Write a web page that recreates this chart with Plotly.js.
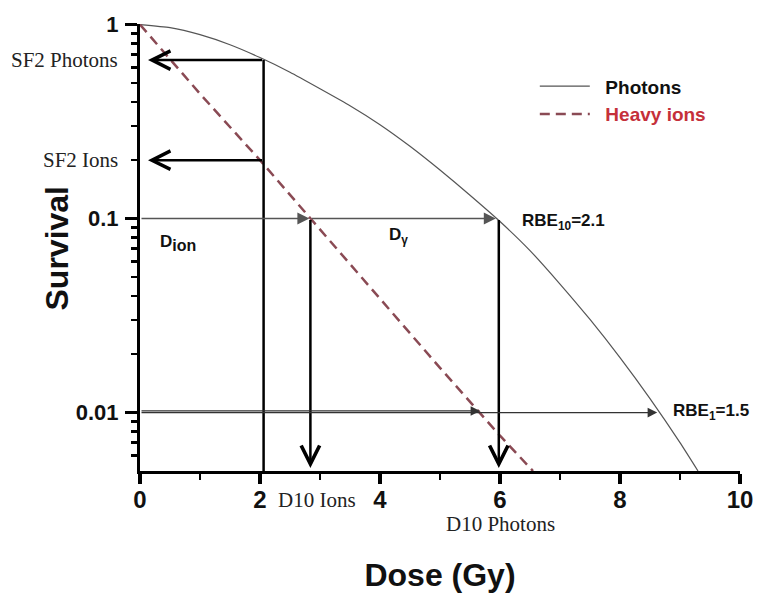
<!DOCTYPE html>
<html><head><meta charset="utf-8">
<script src="https://cdn.plot.ly/plotly-3.0.1.min.js"></script>
<style>html,body{margin:0;padding:0;background:#fff;} #chart{width:766px;height:593px;}</style>
</head><body><div id="chart"></div>
<script>
// ---- data ----
const photonDose     = [0, 0.5, 1, 1.5, 2, 2.5, 3, 3.5, 4, 4.5, 5, 5.5, 6, 6.5, 7, 7.5, 8, 8.5, 9, 9.3];
const photonSurvival = [1, 0.964, 0.887, 0.787, 0.676, 0.568, 0.467, 0.382, 0.305, 0.236, 0.178, 0.132, 0.0966, 0.0684, 0.046, 0.0302, 0.0192, 0.0118, 0.007, 0.005];
const ionDose        = [0, 1, 2, 3, 4, 5, 6, 6.55];
const ionSurvival    = [1, 0.44, 0.2, 0.088, 0.039, 0.017, 0.0076, 0.005];

const xTickVals   = [0, 2, 4, 6, 8, 10];
const xMinorTicks = [1, 3, 5, 7, 9];
const yTickVals   = [0.01, 0.1, 1];
const yTickText   = ['0.01', '0.1', '1'];
const yMinorTicks = [0.006, 0.007, 0.008, 0.009, 0.02, 0.03, 0.04, 0.05, 0.06, 0.07, 0.08, 0.09,
                     0.2, 0.3, 0.4, 0.5, 0.6, 0.7, 0.8, 0.9];

const sf2Dose = 2.06, sf2Photons = 0.656, sf2Ions = 0.2;
const d10Ions = 2.84, d10Photons = 5.98;
const d1Ions = 5.67, d1Photons = 8.62;
const level10 = 0.1, level1 = 0.01;
const yMin = 0.005;

// ---- styling ----
const SANS = 'Liberation Sans, Arial, sans-serif';
const SERIF = 'Liberation Serif, Times New Roman, serif';
const L = Math.log10;
const NB = '\u00a0';

function arrow(xTip, yTip, xTail, yTail, o) {
  return Object.assign({
    x: xTip, y: L(yTip), ax: xTail, ay: L(yTail), xref: 'x', yref: 'y', axref: 'x', ayref: 'y',
    text: '', showarrow: true, arrowcolor: '#000'
  }, o);
}
const thick = {arrowhead: 5, arrowwidth: 2.5, arrowsize: 1.45};
const thin  = {arrowhead: 2, arrowwidth: 1.2, arrowsize: 1.6, arrowcolor: '#333'};

function label(text, x, y, o) {
  return Object.assign({text: text, x: x, y: y, showarrow: false, yanchor: 'middle',
    font: {family: SANS, size: 17, weight: 'bold', color: '#111'}}, o);
}

const annotations = [
  // thick arrows
  arrow(0, sf2Photons, sf2Dose, sf2Photons, Object.assign({standoff: 8}, thick)),
  arrow(0, sf2Ions, sf2Dose, sf2Ions, Object.assign({standoff: 8}, thick)),
  arrow(d10Ions, yMin, d10Ions, level10, Object.assign({standoff: 3}, thick)),
  arrow(d10Photons, yMin, d10Photons, level10, Object.assign({standoff: 3}, thick)),
  // thin arrows
  arrow(d10Ions, level10, 0, level10, Object.assign({standoff: 1}, thin, {arrowwidth: 1.5, arrowcolor: '#555'})),
  arrow(d10Photons, level10, d10Ions, level10, Object.assign({standoff: 3}, thin, {arrowwidth: 1.5, arrowcolor: '#555'})),
  arrow(d1Photons, level1, 0, level1, Object.assign({standoff: 0}, thin)),
  arrow(d1Ions, level1 * 1.02, 0, level1 * 1.02, Object.assign({standoff: 0}, thin)),
  // text labels
  label('SF2 Photons', -0.033, L(sf2Photons), {xref: 'paper', yref: 'y', xanchor: 'right',
        font: {family: SERIF, size: 21, color: '#222'}}),
  label('SF2 Ions', -0.033, L(sf2Ions), {xref: 'paper', yref: 'y', xanchor: 'right',
        font: {family: SERIF, size: 21, color: '#222'}}),
  label('D10 Ions', 2.95, -0.065, {xref: 'x', yref: 'paper', xanchor: 'center', font: {family: SERIF, size: 21, color: '#222'}}),
  label('D10 Photons', 6.0, -0.118, {xref: 'x', yref: 'paper', xanchor: 'center', font: {family: SERIF, size: 21, color: '#222'}}),
  label('D<sub><span style="font-size:16px">ion</span></sub>', 0.30, 0.51, {xref: 'x', yref: 'paper', xanchor: 'left'}),
  label('D<sub>γ</sub>', 4.12, 0.526, {xref: 'x', yref: 'paper', xanchor: 'left'}),
  label('RBE<sub>10</sub>=2.1', 6.33, 0.556, {xref: 'x', yref: 'paper', xanchor: 'left'}),
  label('RBE<sub>1</sub>=1.5', 8.85, 0.132, {xref: 'x', yref: 'paper', xanchor: 'left'}),
  // y-axis title
  {text: 'Survival', xref: 'paper', yref: 'paper', x: -0.14, y: 0.5, xanchor: 'center', yanchor: 'middle',
   textangle: -90, showarrow: false, font: {family: SANS, size: 32, weight: 'bold', color: '#111'}}
];

const shapes = [
  {type: 'line', xref: 'x', yref: 'y', x0: sf2Dose, x1: sf2Dose, y0: yMin, y1: sf2Photons,
   line: {color: '#000', width: 2.5}}
];

const traces = [
  {x: photonDose, y: photonSurvival, type: 'scatter', mode: 'lines', name: NB + NB + 'Photons',
   line: {color: '#555', width: 1.2, shape: 'spline', smoothing: 0.5}},
  {x: ionDose, y: ionSurvival, type: 'scatter', mode: 'lines',
   name: NB + NB + '<span style="color:#c5303a">Heavy ions</span>',
   line: {color: '#8a4a54', width: 2.5, dash: '10px,6px'}}
];

const layout = {
  width: 766, height: 593,
  margin: {l: 140, r: 26, t: 24, b: 122},
  paper_bgcolor: '#fff', plot_bgcolor: '#fff',
  showlegend: true,
  legend: {x: 0.658, xanchor: 'left', y: 0.903, yanchor: 'top', itemwidth: 50,
           bgcolor: 'rgba(0,0,0,0)', font: {family: SANS, size: 19, weight: 'bold', color: '#111'}},
  xaxis: {
    range: [0, 10], showgrid: false, zeroline: false, showline: true, linewidth: 3, linecolor: '#000',
    ticks: 'outside', ticklen: 10, tickwidth: 3.5, tickcolor: '#000',
    tickmode: 'array', tickvals: xTickVals, ticklabelstandoff: -5,
    tickfont: {family: SANS, size: 24, weight: 'bold', color: '#111'},
    minor: {tickmode: 'array', tickvals: xMinorTicks, ticks: 'outside', ticklen: 6, tickwidth: 2.5, tickcolor: '#000', showgrid: false},
    title: {text: 'Dose (Gy)', standoff: 53, font: {family: SANS, size: 32, weight: 'bold', color: '#111'}}
  },
  yaxis: {
    type: 'log', range: [L(yMin), 0.003], showgrid: false, zeroline: false, showline: true, linewidth: 3, linecolor: '#000',
    ticks: 'outside', ticklen: 12, tickwidth: 3, tickcolor: '#000',
    tickmode: 'array', tickvals: yTickVals, ticktext: yTickText, ticklabelstandoff: 2,
    tickfont: {family: SANS, size: 22, weight: 'bold', color: '#111'},
    minor: {tickmode: 'array', tickvals: yMinorTicks, ticks: 'outside', ticklen: 6, tickwidth: 2.5, tickcolor: '#000', showgrid: false}
  },
  annotations: annotations,
  shapes: shapes
};

Plotly.newPlot('chart', traces, layout, {displayModeBar: false, staticPlot: true});
</script>
</body></html>
